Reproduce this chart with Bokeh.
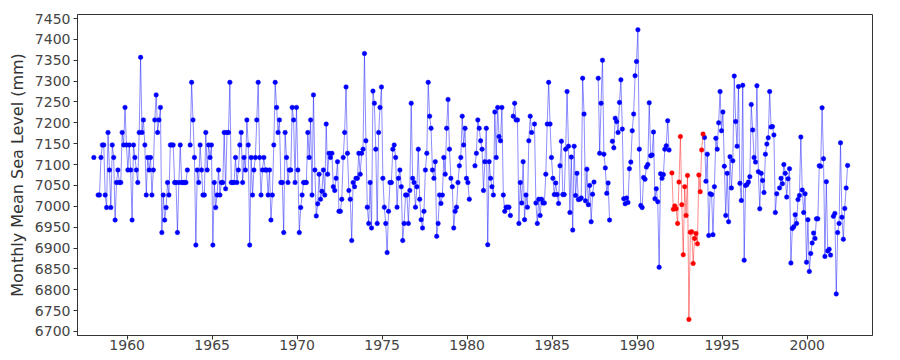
import numpy as np
from bokeh.plotting import figure
from bokeh.models import Range1d, FixedTicker
from bokeh.embed import file_html
from bokeh.resources import INLINE

nan = float("nan")

# Monthly mean sea level (mm); first value is January 1958, NaN = missing month
START_YEAR = 1958

sea_level_1958_1991 = [
    # 1958-1962
    7117, nan, nan, 7027, 7027, 7117, 7147, 7147, 7027, 6997, 7177, 7087, 6997, 7147, 7117, 6967,
    7057, 7087, 7057, 7057, 7177, 7147, 7237, 7147, 7087, 7147, 7087, 6967, 7147, 7117, 7087, 7057,
    7177, 7357, 7177, 7207, 7147, 7027, 7117, 7087, 7117, 7027, 7087, 7207, 7267, 7177, 7207, 7237,
    6937, 7027, 6967, 6997, 7057, 7027, 7147, 7147, 7147, 7057,
    # 1962-1968
    7057, 6937, 7057, 7147, 7057, 7057, 7057, 7057, 7087, nan, 7147, 7297, 7207, 7117, 6907, 7087,
    7057, 7147, 7087, 7027, 7027, 7177, 7087, 7147, 7117, 7147, 6907, 7057, 6997, 7027, 7087, 7027,
    7057, 7057, 7177, 7042, 7177, 7177, 7297, 7057, 7057, 7057, 7117, 7057, 7087, 7147, 7177, 7057,
    7117, 7087, 7207, 7147, 6907, 7117, 7027, 7087, 7117, 7207, 7297, 7117, 7027, 7087, 7117, 7087,
    # 1968-1973
    7087, 7027, 7087, 6967, 7027, 7147, 7297, 7237, 7177, 7207, 7057, 7057, 6937, 7177, 7117, 7057,
    7087, 7087, 7237, 7207, 7057, 7237, 7087, 6937, 6997, 7027, 7057, 7057, 7057, 7177, 7117, 7207,
    7027, 7267, 7087, 6977, 7006, 7077, 7017, 7036, 7087, 7027, 7197, 7077, 7127, 7117, 7127, 7047,
    7038, 7067, 7107, 6988, 6988, 7017, 7117, 7177, 7286, 7127, 7038, 7017, 6918, 7057, 7047, 7067,
    7067, 7127, 7077, 7127, 7137,
    # 1973-1979
    7366, 7157, 6998, 6959, 7057, 6948, 7276, 7247, 7137, 6959, 7177, 7237, 7286, 7067, 6998, 6959,
    6889, 6988, 7057, 7057, 7137, 7147, 7117, 6998, 7067, 7087, 7047, 6918, 6959, 7027, 7027, 6959,
    7038, 7247, 7067, 7057, 6998, 7047, 7137, 7017, 6968, 6948, 6988, 7087, 7127, 7297, 7216, 7187,
    7087, 7067, 7107, 6928, 6959, 7027, 7007, 7027, 7117, 7077, 7187, 7256, 7137, 7067, 7047, 6948,
    6988,
    # 1979-1985
    6998, 7057, 7097, 7117, 7216, 7147, 7187, 7067, 7057, 7017, nan, nan, nan, 7097, 7127, 7207,
    7187, 7157, 7137, 7038, 7107, 7187, 6908, 7107, 7067, 7047, 7027, 7226, 7117, 7237, 7167, 7157,
    7237, 7027, 6988, 6998, 6998, 6998, 6978, nan, 7216, 7247, 7207, 7207, 6959, 7057, 7008, 7107,
    6968, 7027, 6998, 7157, 7216, 7177, nan, 7197, 7008, 6959, 7017, 6978, 7017, 7008, 7008, 7077,
    7197, 7297, 7197,
    # 1985-1990
    7117, 7067, 7028, 7056, 7028, 7007, 7097, 7156, 7028, 7028, 7137, 7275, 7144, 6985, 7118, 6943,
    7144, 7026, 7079, 7016, 7017, 7020, 7307, 7221, 7013, 7089, 7004, 7050, 6963, 7029, 7058, nan,
    nan, 7307, 7127, 7247, 7350, 7125, 7092, 7031, 7056, 6967, nan, 7156, 7140, 7211, 7203, 7177,
    7249, 7303, 7185, 7018, 7006, 7020, 7009, 7090, 7106, 7181, 7221, 7313, 7347, 7423, 7137, 7002,
    6997, 7069,
    # 1990-1991
    7065, 7094, 7100, 7248, 7121, 7123, 7178, 7018, 7042, 7011, 6854, 7078, 7067, 7076, 7137, 7145,
    7205, 7135, nan,
]

sea_level_1992_1993 = [
    7080, 6993, 7001, 6994, 6959, 7058, 7167, 7004, 6884, 7047, 6978, 7074,
    6729, 6938, 6939, 6863, 6923, 6935, 6910, 7075, 7035, 7135, 7173,
]

sea_level_1993_2002 = [
    7165, 7060, 7125, 6930, 7030, 7028, 6932, 7047, 7163, 7137, 7200, 7275, 7181, 7226, 7096, 6978,
    7079, 6963, 7119, 7044, 7109, 7312, 7203, 7144, 7287, 7055,
    7014, 7290, 6871, 7050, 7052, 7058, 7071, 7244, 7183, 7117, 7106, 7289, 7083, 6994, 7079, 7062,
    7033, 7125, 7149, 7164, 7275, 7190, 7191, 7171, 6985, 7030, nan, 7044, 7067, 7054, 7100, 7079,
    7022, 7066, 7090, 6864, 6947, 6951, 6980, 6959, 7016, 7026, 7166, 7039, 6985, 7030, 6866, 6968,
    6844, 6887, 6912, 6936, 6923, 6970, 6970, 7097, 7096, 7236, 7114, 6880, 7059, 6893, 6897, 6883,
    nan, 6976, 6983, 6790, 6937, 6959, 7152, 6974, 6921, 6995, 7044, 7098,
]

x_ticks = [1960, 1965, 1970, 1975, 1980, 1985, 1990, 1995, 2000]
y_ticks = list(range(6700, 7451, 50))
y_label = "Monthly Mean Sea Level (mm)"

n1 = len(sea_level_1958_1991)
n2 = len(sea_level_1992_1993)
n3 = len(sea_level_1993_2002)
t = START_YEAR + (np.arange(n1 + n2 + n3) + 0.5) / 12.0
t1, t2, t3 = t[:n1], t[n1:n1 + n2], t[n1 + n2:]
v1 = np.array(sea_level_1958_1991, dtype=float)
v2 = np.array(sea_level_1992_1993, dtype=float)
v3 = np.array(sea_level_1993_2002, dtype=float)

p = figure(width=888, height=356, output_backend="svg", toolbar_location=None,
           x_range=Range1d(1957.08, 2003.84), y_range=Range1d(6690.4, 7459.6),
           min_border_left=77, min_border_right=16, min_border_top=14, min_border_bottom=21)

p.background_fill_color = "white"
p.border_fill_color = "white"
p.grid.visible = False
p.outline_line_color = "#333333"
p.outline_line_width = 1
p.outline_line_alpha = 1.0

FONT = "DejaVu Sans"
for ax in (p.xaxis[0], p.yaxis[0]):
    ax.axis_line_color = "#333333"
    ax.major_tick_line_color = "#333333"
    ax.minor_tick_line_color = None
    ax.major_tick_in = 0
    ax.major_tick_out = 4
    ax.major_label_text_font = FONT
    ax.major_label_text_font_size = "14px"
    ax.major_label_text_color = "#444444"

p.xaxis.ticker = FixedTicker(ticks=x_ticks)
p.yaxis.ticker = FixedTicker(ticks=y_ticks)
p.xaxis.major_label_standoff = 0
p.yaxis.major_label_standoff = 3
p.yaxis.axis_label = y_label
p.yaxis.axis_label_text_font = FONT
p.yaxis.axis_label_text_font_size = "16px"
p.yaxis.axis_label_text_font_style = "normal"
p.yaxis.axis_label_text_color = "#333333"
p.yaxis.axis_label_standoff = 5

BLUE = "#0000ff"
RED = "#ff0000"
p.line(t1, v1, line_color=BLUE, line_alpha=0.45, line_width=1)
p.line(t3, v3, line_color=BLUE, line_alpha=0.45, line_width=1)
p.scatter(t1, v1, size=4.5, fill_color=BLUE, line_color=BLUE, line_width=0.5)
p.scatter(t3, v3, size=4.5, fill_color=BLUE, line_color=BLUE, line_width=0.5)
p.line(t2, v2, line_color=RED, line_alpha=0.45, line_width=1)
p.scatter(t2, v2, size=4.5, fill_color=RED, line_color=RED, line_width=0.5)

open("out.html", "w").write(file_html(p, INLINE))
